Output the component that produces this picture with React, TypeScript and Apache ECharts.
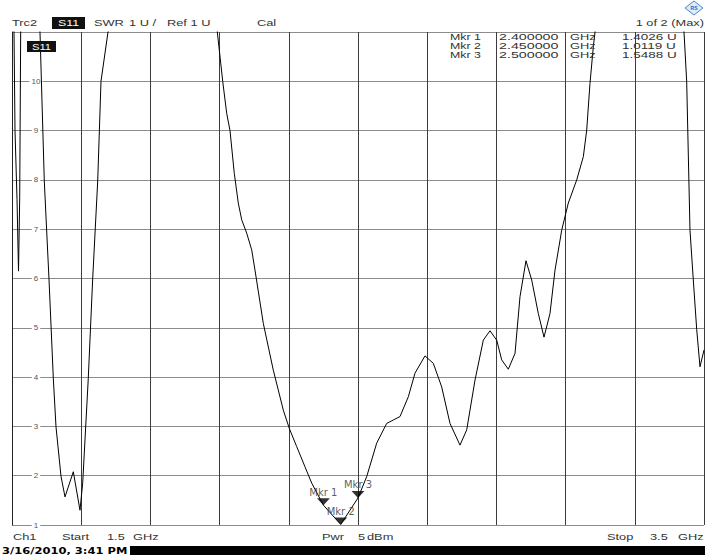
import React, { useEffect, useRef } from "react";
import * as echarts from "echarts";

// ---- data ----
const startGHz = 1.5;
const stopGHz = 3.5;
const divisions = 10;
const yMin = 1;
const yMax = 11;

const freqGHz = [
  1.5, 1.5058, 1.5087, 1.5145, 1.5188, 1.5223, 1.5251, 1.55,
  1.5809, 1.5933, 1.6069, 1.6194, 1.6272, 1.6416, 1.6532, 1.6772, 1.6965, 1.7043,
  1.7205, 1.7332, 1.7477, 1.7572, 1.7775, 1.95,
  2.0934, 2.1032, 2.109, 2.1205, 2.1301, 2.1425, 2.154, 2.1639, 2.1783, 2.1928,
  2.2023, 2.2263, 2.2552, 2.2841, 2.3014, 2.3228, 2.3468, 2.3662, 2.4, 2.45, 2.5,
  2.5251, 2.554, 2.5829, 2.602, 2.6214, 2.6454, 2.6647, 2.6936, 2.7176, 2.7419,
  2.7659, 2.7948, 2.8142, 2.8382, 2.8622, 2.8815, 2.9009, 2.9153, 2.9344, 2.9538,
  2.9682, 2.9855, 3.002, 3.0211, 3.0376, 3.0549, 3.0694, 3.0887, 3.1078, 3.1321,
  3.1512, 3.161, 3.1705, 3.1801, 3.185, 3.31,
  3.4422, 3.45, 3.4595, 3.4691, 3.479, 3.4884, 3.5,
];
const swrU = [
  12.0, 11.0, 9.0, 7.6, 6.15, 7.65, 11.0, 14.0,
  11.0, 7.98, 5.99, 3.98, 2.99, 1.99, 1.57, 2.08, 1.3, 1.85,
  3.98, 5.99, 7.98, 10.0, 11.0, 15.0,
  11.0, 10.37, 10.0, 9.35, 9.0, 8.13, 7.53, 7.19, 6.92, 6.58,
  6.17, 5.09, 4.14, 3.33, 2.96, 2.59, 2.18, 1.85, 1.4026, 1.0119, 1.5488,
  1.98, 2.66, 3.06, 3.13, 3.2, 3.6, 4.08, 4.43, 4.28, 3.8,
  3.06, 2.62, 2.93, 3.94, 4.75, 4.94, 4.75, 4.35, 4.16, 4.48,
  5.63, 6.36, 5.97, 5.29, 4.81, 5.29, 6.17, 6.98, 7.53, 8.0,
  8.47, 9.01, 9.96, 10.7, 11.0, 15.0,
  11.0, 9.99, 6.98, 5.97, 4.96, 4.21, 4.55,
];

const markerNames = ["Mkr 1", "Mkr 2", "Mkr 3"];
const markerFreqGHz = [2.4, 2.45, 2.5];
const markerSwr = [1.4026, 1.0119, 1.5488];
const markerFreqText = ["2.400000", "2.450000", "2.500000"];
const markerValText = ["1.4026 U", "1.0119 U", "1.5488 U"];

const headerTexts = ["Trc2", "S11", "SWR", "1 U /", "Ref 1 U", "Cal", "1 of 2 (Max)"];
const footerTexts = ["Ch1", "Start", "1.5", "GHz", "Pwr", "5", "dBm", "Stop", "3.5", "GHz"];
const dateText = "3/16/2010, 3:41 PM";

const FONT = "Liberation Sans, Arial, sans-serif";

function txt(x: number, y: number, text: string, opts: any = {}) {
  return {
    type: "text",
    x,
    y,
    scaleX: opts.scaleX ?? 1.35,
    z: 100,
    style: {
      text,
      fill: opts.fill ?? "#333",
      fontSize: opts.fontSize ?? 9.5,
      fontFamily: opts.fontFamily ?? FONT,
      fontWeight: opts.fontWeight ?? "normal",
      align: opts.align ?? "left",
      textAlign: opts.align ?? "left",
      verticalAlign: "middle",
      textVerticalAlign: "middle",
    },
  };
}

export default function App() {
  const ref = useRef<HTMLDivElement>(null);
  useEffect(() => {
    document.body.style.margin = "0";
    const chart = echarts.init(ref.current!, null, { renderer: "svg" });

    const lineData = freqGHz.map((f, i) => [f, swrU[i]]);
    const mkData = markerFreqGHz.map((f, i) => ({ name: markerNames[i], value: [f, markerSwr[i]] }));

    const graphics: any[] = [];
    // header
    graphics.push(txt(12, 23, headerTexts[0]));
    graphics.push({ type: "rect", z: 99, shape: { x: 52, y: 17, width: 33, height: 12 }, style: { fill: "#111" } });
    graphics.push(txt(68.5, 23, headerTexts[1], { fill: "#fff", align: "center", scaleX: 1.3 }));
    graphics.push(txt(94, 23, headerTexts[2]));
    graphics.push(txt(129, 23, headerTexts[3]));
    graphics.push(txt(167, 23, headerTexts[4]));
    graphics.push(txt(257, 23, headerTexts[5]));
    graphics.push(txt(704, 23, headerTexts[6], { align: "right" }));
    // logo
    graphics.push({
      type: "polygon",
      z: 100,
      shape: { points: [[694, 1], [703, 8], [694, 15], [685, 8]] },
      style: { fill: "#dcecfb", stroke: "#4a86d0", lineWidth: 1 },
    });
    graphics.push(txt(694, 8, "RS", { fill: "#2a64b8", fontSize: 5, align: "center", scaleX: 1, fontWeight: "bold" }));
    // S11 tag in plot
    graphics.push({ type: "rect", z: 99, shape: { x: 27, y: 41, width: 29, height: 11 }, style: { fill: "#111" } });
    graphics.push(txt(41.5, 46.5, "S11", { fill: "#fff", align: "center", fontSize: 9, scaleX: 1.25 }));
    // marker table
    const rowsY = [36.5, 45.5, 54.5];
    rowsY.forEach((y, i) => {
      graphics.push(txt(450, y, markerNames[i], { scaleX: 1.3 }));
      graphics.push(txt(499, y, markerFreqText[i], { scaleX: 1.5 }));
      graphics.push(txt(570, y, "GHz", { scaleX: 1.35 }));
      graphics.push(txt(622, y, markerValText[i], { scaleX: 1.42 }));
    });
    // footer
    const fy = 537;
    graphics.push(txt(13, fy, footerTexts[0]));
    graphics.push(txt(62, fy, footerTexts[1]));
    graphics.push(txt(107, fy, footerTexts[2]));
    graphics.push(txt(133, fy, footerTexts[3]));
    graphics.push(txt(322, fy, footerTexts[4]));
    graphics.push(txt(358, fy, footerTexts[5]));
    graphics.push(txt(367, fy, footerTexts[6]));
    graphics.push(txt(607, fy, footerTexts[7]));
    graphics.push(txt(650, fy, footerTexts[8]));
    graphics.push(txt(678, fy, footerTexts[9]));
    // date bar
    graphics.push({ type: "rect", z: 99, shape: { x: 130, y: 546, width: 575, height: 9 }, style: { fill: "#000" } });
    graphics.push(
      txt(2, 550.5, dateText, { fill: "#000", fontWeight: "bold", fontSize: 9, fontFamily: "DejaVu Sans, sans-serif", scaleX: 1.28 })
    );

    chart.setOption({
      animation: false,
      backgroundColor: "#fff",
      grid: { left: 12, right: 1, top: 32, bottom: 30, containLabel: false },
      xAxis: [
        {
          type: "value",
          min: startGHz,
          max: stopGHz,
          show: false,
        },
        {
          type: "value",
          min: 0,
          max: divisions,
          interval: 1,
          axisLine: { show: false },
          axisTick: { show: false },
          axisLabel: { show: false },
          splitLine: { show: true, lineStyle: { color: "#3c3c3c", width: 1 } },
        },
      ],
      yAxis: {
        type: "value",
        min: yMin,
        max: yMax,
        interval: 1,
        axisLine: { show: true, lineStyle: { color: "#222", width: 1 } },
        axisTick: { show: false },
        splitLine: { show: true, lineStyle: { color: "#8c8c8c", width: 1 } },
        axisLabel: {
          inside: true,
          margin: 24,
          align: "center",
          fontSize: 8,
          color: "#555",
          fontFamily: FONT,
          backgroundColor: "#fff",
          padding: [0, 2],
          showMaxLabel: false,
        },
      },
      series: [
        {
          type: "line",
          xAxisIndex: 0,
          yAxisIndex: 0,
          data: lineData,
          showSymbol: false,
          symbol: "none",
          clip: true,
          lineStyle: { color: "#000", width: 1 },
          z: 5,
        },
        {
          type: "scatter",
          xAxisIndex: 0,
          yAxisIndex: 0,
          data: mkData,
          symbol: "path://M0,0L14,0L7,7Z",
          symbolSize: [13, 7],
          symbolOffset: [0, -3.5],
          itemStyle: { color: "#000" },
          z: 6,
          label: {
            show: true,
            position: "top",
            distance: 1,
            formatter: (p: any) => p.name,
            fontSize: 10,
            fontFamily: "DejaVu Sans, sans-serif",
            color: "#333333",
            textBorderWidth: 0,
            textBorderColor: "transparent",
          },
        },
      ],
      graphic: graphics,
    });

    return () => chart.dispose();
  }, []);
  return <div ref={ref} style={{ width: 705, height: 555, background: "#fff" }} />;
}
